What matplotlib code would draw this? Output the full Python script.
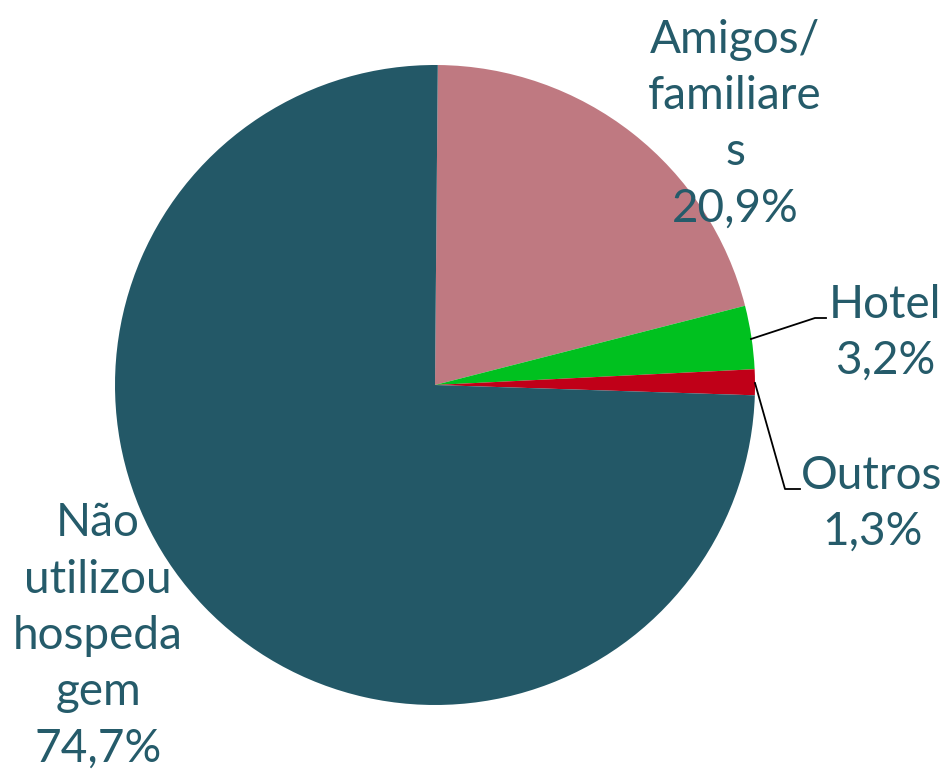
import matplotlib.pyplot as plt

# Pie data (clockwise from 12 o'clock)
labels = ["Amigos/\nfamiliare\ns", "Hotel", "Outros", "Não\nutilizou\nhospeda\ngem"]
values = [20.9, 3.2, 1.3, 74.7]
pct_text = ["20,9%", "3,2%", "1,3%", "74,7%"]
colors = ["#BF7981", "#00C11F", "#C00018", "#235867"]
text_color = "#255B6A"

# label placement (pixel coords, y up)
label_pos = [(735, 647), (885, 438), (872, 267), (98, 135)]

plt.rcParams['font.family'] = ['Lato', 'DejaVu Sans']

fig = plt.figure(figsize=(9.47, 7.71), dpi=100)
ax = fig.add_axes([0, 0, 1, 1])

center = (435, 386)
radius = 320
wedges, _ = ax.pie(values, colors=colors, startangle=89.5, counterclock=False,
                   center=center, radius=radius, frame=True,
                   wedgeprops=dict(linewidth=0))
ax.set_xlim(0, 947)
ax.set_ylim(0, 771)
ax.set_aspect('equal')
ax.axis('off')

for lab, pct, (x, y) in zip(labels, pct_text, label_pos):
    ax.text(x, y, lab + "\n" + pct, ha='center', va='center', fontsize=33,
            color=text_color, linespacing=1.42)

# leader lines for small slices
ax.plot([751, 815, 826], [771 - 339, 771 - 318, 771 - 318], color='black', lw=1.3)
ax.plot([755, 785, 800], [771 - 383, 771 - 489, 771 - 489], color='black', lw=1.3)

fig.savefig("out.png", dpi=100)
